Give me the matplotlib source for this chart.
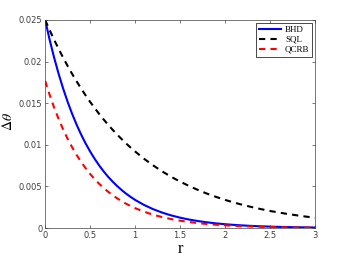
import matplotlib.pyplot as plt

plt.rcParams["mathtext.fontset"] = "stix"

# values (finer steps where the curves bend most)
r = [0, 0.05, 0.1, 0.15, 0.2, 0.25, 0.3, 0.35, 0.4, 0.45, 0.5, 0.55, 0.6, 0.65, 0.7,
     0.75, 0.8, 0.85, 0.9, 0.95, 1.0,
     1.1, 1.2, 1.3, 1.4, 1.5, 1.6, 1.7, 1.8, 1.9, 2.0,
     2.1, 2.2, 2.3, 2.4, 2.5, 2.6, 2.7, 2.8, 2.9, 3.0]
sql = [0.02500, 0.02378, 0.02262, 0.02152, 0.02047, 0.01947, 0.01852, 0.01762, 0.01676, 0.01594,
       0.01516, 0.01442, 0.01372, 0.01305, 0.01241, 0.01181, 0.01123, 0.01069, 0.01016, 0.00967,
       0.00920,
       0.00832, 0.00753, 0.00681, 0.00616, 0.00558, 0.00505, 0.00457, 0.00413, 0.00374, 0.00338,
       0.00306, 0.00277, 0.00251, 0.00227, 0.00205, 0.00186, 0.00168, 0.00152, 0.00137, 0.00124]
bhd = [0.02500, 0.02262, 0.02047, 0.01852, 0.01676, 0.01516, 0.01372, 0.01241, 0.01123, 0.01016,
       0.00920, 0.00832, 0.00753, 0.00681, 0.00616, 0.00558, 0.00505, 0.00457, 0.00413, 0.00374,
       0.00338,
       0.002770, 0.002268, 0.001857, 0.001520, 0.001245, 0.001019, 0.000834, 0.000683, 0.000559,
       0.000458, 0.000375, 0.000307, 0.000251, 0.000206, 0.000168, 0.000138, 0.000113, 0.000092,
       0.000076, 0.000062]
qcrb = [0.01768, 0.01600, 0.01447, 0.01310, 0.01185, 0.01072, 0.00970, 0.00878, 0.00794, 0.00719,
        0.00650, 0.00588, 0.00532, 0.00482, 0.00436, 0.00395, 0.00357, 0.00323, 0.00292, 0.00264,
        0.00239,
        0.001959, 0.001604, 0.001313, 0.001075, 0.000880, 0.000721, 0.000590, 0.000483, 0.000395,
        0.000324, 0.000265, 0.000217, 0.000178, 0.000146, 0.000119, 0.000098, 0.000080, 0.000065,
        0.000054, 0.000044]

xticks = [0, 0.5, 1, 1.5, 2, 2.5, 3]
xticklabels = ["0", "0.5", "1", "1.5", "2", "2.5", "3"]
yticks = [0, 0.005, 0.01, 0.015, 0.02, 0.025]
yticklabels = ["0", "0.005", "0.01", "0.015", "0.02", "0.025"]

fig = plt.figure(figsize=(3.5, 2.63), dpi=100)
ax = fig.add_axes([0.129, 0.133, 0.771, 0.791])

ax.plot(r, bhd, color="#0000ff", lw=1.5, label="BHD")
ax.plot(r, sql, color="black", lw=1.5, ls=(0, (3, 2.5)), label="SQL")
ax.plot(r, qcrb, color="#ff0000", lw=1.5, ls=(0, (3, 2.5)), label="QCRB")

ax.set_xlim(0, 3)
ax.set_ylim(0, 0.025)
ax.set_xticks(xticks)
ax.set_xticklabels(xticklabels)
ax.set_yticks(yticks)
ax.set_yticklabels(yticklabels)
ax.tick_params(direction="in", length=2.5, width=0.5, labelsize=6,
               colors="#404040", top=True, right=True, pad=2)
for s in ax.spines.values():
    s.set_color("#404040")
    s.set_linewidth(0.5)

ax.set_xlabel("r", family="Liberation Serif", fontsize=12, labelpad=1)
ax.set_ylabel(r"$\Delta\theta$", fontsize=10)
ax.yaxis.set_label_coords(-0.11, 0.51)

leg = ax.legend(loc="upper right", fancybox=False, edgecolor="black", framealpha=1,
                prop={"family": "Liberation Serif", "size": 6.5},
                borderaxespad=0.3, handlelength=2.5, handletextpad=0.4,
                labelspacing=0.2, borderpad=0.3)
leg.get_frame().set_linewidth(0.5)

fig.savefig("out.png", dpi=100)
